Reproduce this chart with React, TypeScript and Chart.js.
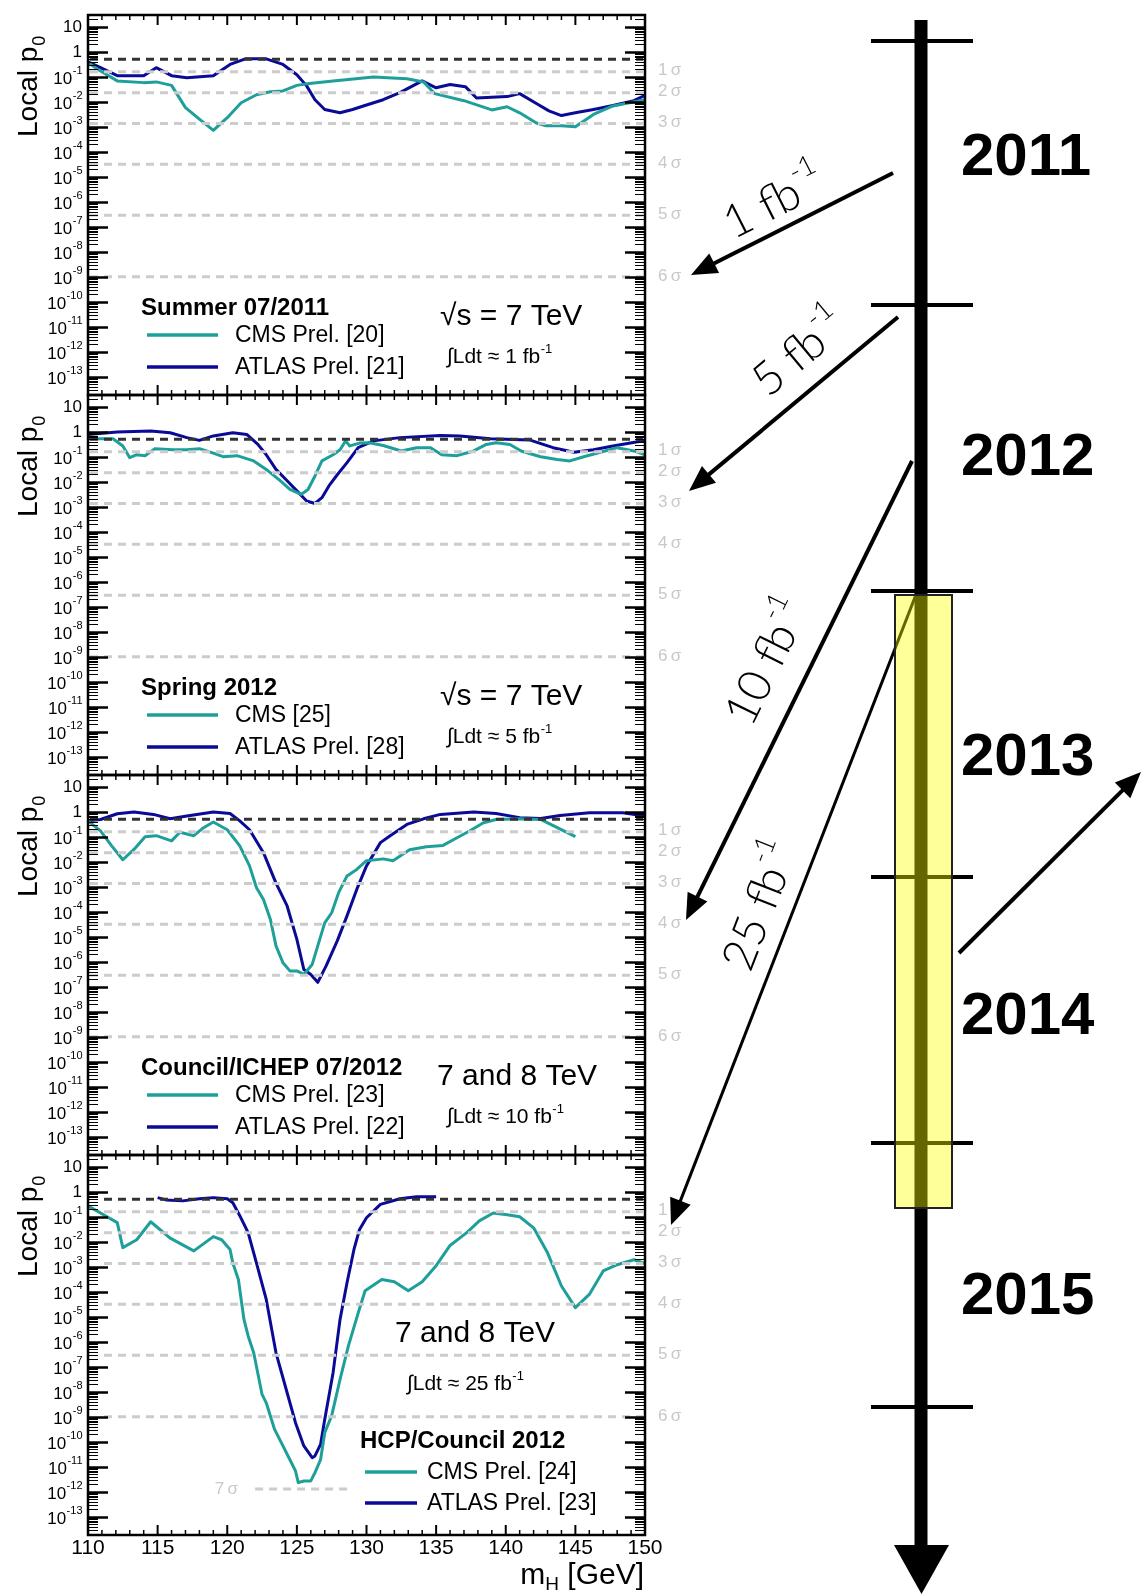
import { useEffect, useRef } from 'react';
import { Chart, registerables } from 'chart.js';

Chart.register(...registerables);

const FONT = '"Liberation Sans", Arial, Helvetica, sans-serif';
const TEAL = '#1e9f9a';
const NAVY = '#0a0a96';

// ---------------- data ----------------
const P1_CMS_M = [110, 110.9, 112.1, 114, 114.9, 116, 117, 118, 119, 120, 121, 122.1, 123.1, 124, 125, 125.9, 127.6, 130.5, 132.9, 134.1, 134.9, 137, 139, 140.1, 141, 142.2, 142.9, 144, 145, 146.3, 147.7, 150];
const P1_CMS_P = [3.6e-1, 1.7e-1, 6.8e-2, 5.8e-2, 6.2e-2, 4.5e-2, 5.8e-3, 2.0e-3, 7.1e-4, 2.3e-3, 9.1e-3, 1.9e-2, 2.5e-2, 2.7e-2, 4.5e-2, 5.4e-2, 6.8e-2, 9.8e-2, 8.3e-2, 6.2e-2, 2.1e-2, 1.1e-2, 4.7e-3, 6.3e-3, 3.6e-3, 1.4e-3, 1.1e-3, 1.1e-3, 1.0e-3, 3.1e-3, 6.8e-3, 1.2e-2];
const P1_ATLAS_M = [110, 110.9, 112.1, 114, 114.9, 116, 117.1, 119, 120.2, 121.3, 122.8, 124, 125, 125.7, 126.3, 127, 128.1, 129, 130, 131.2, 132.4, 134, 135, 136, 137.1, 137.9, 140.1, 141, 142.2, 143.1, 144, 145, 146.3, 147.7, 149.2, 150];
const P1_ATLAS_P = [3.9e-1, 2.3e-1, 1.1e-1, 1.1e-1, 2.3e-1, 1.1e-1, 9.1e-2, 1.1e-1, 3.1e-1, 5.2e-1, 5.2e-1, 3.1e-1, 1.2e-1, 4.3e-2, 1.2e-2, 4.9e-3, 3.6e-3, 4.9e-3, 7.4e-3, 1.2e-2, 2.3e-2, 6.8e-2, 3.6e-2, 4.9e-2, 4.0e-2, 1.4e-2, 1.6e-2, 2.1e-2, 8.5e-3, 4.3e-3, 2.8e-3, 3.6e-3, 4.9e-3, 7.1e-3, 1.1e-2, 1.8e-2];

const P2_CMS_M = [110, 111.8, 112.5, 113, 113.5, 114.1, 114.8, 116.1, 117.1, 118, 119, 119.7, 120.7, 121.9, 122.8, 123.8, 124.5, 125.3, 125.8, 126.3, 126.8, 127.6, 128.1, 128.5, 128.8, 129.5, 130.2, 131.2, 132.5, 133.6, 134.6, 135.4, 136.5, 137.7, 138.6, 139.3, 140.3, 141.1, 142.5, 143.7, 144.6, 145.6, 146.8, 148, 149.2, 150];
const P2_CMS_P = [5.2e-1, 5.2e-1, 2.7e-1, 9.1e-2, 1.2e-1, 1.1e-1, 2.1e-1, 1.9e-1, 1.9e-1, 2.1e-1, 1.4e-1, 1.0e-1, 1.1e-1, 6.8e-2, 3.1e-2, 1.1e-2, 4.9e-3, 3.1e-3, 4.9e-3, 1.7e-2, 6.8e-2, 1.2e-1, 1.9e-1, 4.3e-1, 2.7e-1, 3.5e-1, 3.6e-1, 2.8e-1, 1.7e-1, 2.3e-1, 2.3e-1, 1.2e-1, 1.1e-1, 1.7e-1, 3.1e-1, 3.6e-1, 3.1e-1, 1.7e-1, 1.0e-1, 7.8e-2, 6.8e-2, 1.0e-1, 1.5e-1, 2.3e-1, 1.7e-1, 1.2e-1];
const P2_ATLAS_M = [110, 112.1, 114.5, 115.9, 117.1, 118, 119, 120.4, 121.4, 122.2, 122.8, 123.5, 124.3, 125, 125.7, 126.3, 126.8, 127.3, 127.9, 128.6, 129.4, 130.5, 132.4, 135.3, 136.7, 138.9, 141.7, 143.4, 144.9, 146.3, 147.7, 150];
const P2_ATLAS_P = [7.8e-1, 9.8e-1, 1.07, 9.1e-1, 5.8e-1, 4.5e-1, 6.8e-1, 9.1e-1, 7.8e-1, 3.1e-1, 1.2e-1, 3.1e-2, 1.1e-2, 4.3e-3, 1.7e-3, 1.35e-3, 2.3e-3, 6.8e-3, 1.9e-2, 5.8e-2, 2.3e-1, 4.3e-1, 5.8e-1, 7.1e-1, 6.8e-1, 5.2e-1, 4.7e-1, 2.3e-1, 1.5e-1, 1.9e-1, 2.7e-1, 4.5e-1];

const P3_CMS_M = [110, 110.9, 111.7, 112.5, 113.3, 114.1, 114.9, 116, 116.6, 117.6, 118.3, 119, 120, 120.9, 121.6, 122.1, 122.6, 123.1, 123.5, 124, 124.5, 125, 125.5, 126.1, 126.5, 127, 127.5, 128, 128.6, 129.3, 130, 131.2, 131.9, 133.1, 134.3, 135.5, 136.5, 137.4, 138.4, 139.3, 141, 142.5, 143.7, 145];
const P3_CMS_P = [4.3e-1, 1.7e-1, 4.3e-2, 1.2e-2, 3.1e-2, 1.0e-1, 1.1e-1, 6.8e-2, 1.5e-1, 1.1e-1, 2.3e-1, 3.9e-1, 1.9e-1, 4.3e-2, 6.8e-3, 9.1e-4, 3.1e-4, 4.9e-5, 4.3e-6, 9.1e-7, 4.3e-7, 4.3e-7, 3.1e-7, 7.8e-7, 4.3e-6, 3.6e-5, 9.1e-5, 5.8e-4, 2.7e-3, 4.9e-3, 1.1e-2, 1.3e-2, 1.1e-2, 3.0e-2, 4.0e-2, 4.5e-2, 9.1e-2, 1.7e-1, 3.6e-1, 4.9e-1, 5.2e-1, 4.9e-1, 2.3e-1, 1.0e-1];
const P3_ATLAS_M = [110, 110.9, 112.1, 113.3, 114.7, 115.9, 117.1, 119, 120.2, 120.9, 121.6, 122.6, 123.5, 124.3, 125, 125.5, 126, 126.5, 127.1, 127.9, 128.6, 129.3, 130, 131, 131.7, 132.9, 134.1, 135.3, 137.7, 139.3, 141, 142.5, 143.9, 146, 148.4, 150];
const P3_ATLAS_P = [4.3e-1, 4.9e-1, 8.3e-1, 9.8e-1, 7.8e-1, 5.2e-1, 6.8e-1, 9.8e-1, 8.5e-1, 4.3e-1, 1.9e-1, 2.3e-2, 1.4e-3, 1.7e-4, 7.8e-6, 4.9e-7, 3.1e-7, 1.5e-7, 6.8e-7, 6.8e-6, 6.8e-5, 7.8e-4, 6.8e-3, 5.8e-2, 1.1e-1, 3.1e-1, 5.2e-1, 7.8e-1, 9.8e-1, 8.5e-1, 5.8e-1, 5.4e-1, 7.1e-1, 9.1e-1, 9.1e-1, 6.8e-1];

const P4_CMS_M = [110, 110.9, 112.1, 112.5, 113.5, 114.5, 115.9, 117.6, 119, 119.6, 120.2, 120.4, 120.8, 121.2, 121.5, 121.9, 122.5, 122.8, 123.4, 124, 124.5, 124.9, 125.1, 125.5, 126, 126.3, 126.7, 127, 127.5, 128.1, 128.7, 129.4, 129.9, 131.1, 132, 133, 134, 135, 136, 137.2, 138.1, 139.1, 140.1, 141, 142, 143, 144, 145, 146, 147, 148, 149.2, 150];
const P4_CMS_P = [2.7e-1, 1.4e-1, 5.8e-2, 5.8e-3, 1.2e-2, 6.3e-2, 1.4e-2, 4.3e-3, 1.6e-2, 1.2e-2, 4.9e-3, 1.4e-3, 3.1e-4, 7.8e-6, 1.7e-6, 3.6e-7, 7.8e-9, 3.6e-9, 3.1e-10, 6.8e-11, 1.9e-11, 6.8e-12, 2.3e-12, 2.7e-12, 2.7e-12, 5.8e-12, 1.9e-11, 2.3e-10, 1.1e-9, 3.1e-8, 6.8e-7, 1.4e-5, 1.1e-4, 3.1e-4, 2.5e-4, 1.1e-4, 2.5e-4, 1.1e-3, 7.1e-3, 2.3e-2, 6.8e-2, 1.4e-1, 1.2e-1, 1.0e-1, 3.6e-2, 3.6e-3, 1.7e-4, 2.3e-5, 7.8e-5, 6.8e-4, 1.2e-3, 1.9e-3, 1.35e-3];
const P4_ATLAS_M = [115, 115.6, 116.8, 118, 119, 120, 120.4, 120.9, 121.5, 122.1, 122.8, 123.5, 124.3, 124.9, 125.5, 126.1, 126.3, 126.7, 127, 127.6, 128.1, 128.6, 129.1, 129.5, 130, 131, 132.4, 133.6, 135];
const P4_ATLAS_P = [5.8e-1, 4.7e-1, 4.3e-1, 5.2e-1, 5.8e-1, 5.2e-1, 3.6e-1, 1.1e-1, 2.3e-2, 1.4e-3, 4.9e-5, 3.6e-7, 9.1e-9, 5.8e-10, 6.8e-11, 2.3e-11, 2.7e-11, 7.8e-11, 7.8e-10, 5.8e-8, 7.8e-6, 2.3e-4, 4.9e-3, 3.1e-2, 9.1e-2, 3.1e-1, 5.2e-1, 6.3e-1, 6.3e-1];

const PANEL_TITLES = ['Summer 07/2011', 'Spring 2012', 'Council/ICHEP 07/2012', 'HCP/Council 2012'];
const CMS_LABELS = ['CMS Prel. [20]', 'CMS [25]', 'CMS Prel. [23]', 'CMS Prel. [24]'];
const ATLAS_LABELS = ['ATLAS Prel. [21]', 'ATLAS Prel. [28]', 'ATLAS Prel. [22]', 'ATLAS Prel. [23]'];
const ENERGY_LABELS = ['\u221As = 7 TeV', '\u221As = 7 TeV', '7 and 8 TeV', '7 and 8 TeV'];
const LUMI_VALUES = ['1', '5', '10', '25'];

const X_MIN = 110;
const X_MAX = 150;
const X_TICK_LABELS = [110, 115, 120, 125, 130, 135, 140, 145, 150];
const Y_MIN = 1.86e-14;
const Y_MAX = 29.4;
const Y_LABEL_EXPONENTS = [-13, -12, -11, -10, -9, -8, -7, -6, -5, -4, -3, -2, -1, 0, 1];
const SIGMA_NAMES = ['1\u2009\u03C3', '2\u2009\u03C3', '3\u2009\u03C3', '4\u2009\u03C3', '5\u2009\u03C3', '6\u2009\u03C3', '7\u2009\u03C3'];
const SIGMA_P = [1.587e-1, 2.275e-2, 1.35e-3, 3.17e-5, 2.87e-7, 9.87e-10, 1.28e-12];
const HALF_P = 0.5;

const TIMELINE_YEARS = ['2011', '2012', '2013', '2014', '2015'];
const LUMI_ARROW_LABELS = ['1', '5', '10', '25'];

// ---------------- layout ----------------
const PANEL_SERIES = [
  { cm: P1_CMS_M, cp: P1_CMS_P, am: P1_ATLAS_M, ap: P1_ATLAS_P },
  { cm: P2_CMS_M, cp: P2_CMS_P, am: P2_ATLAS_M, ap: P2_ATLAS_P },
  { cm: P3_CMS_M, cp: P3_CMS_P, am: P3_ATLAS_M, ap: P3_ATLAS_P },
  { cm: P4_CMS_M, cp: P4_CMS_P, am: P4_ATLAS_M, ap: P4_ATLAS_P },
];
const PLOT_L = 88;
const PLOT_R = 645;
const PANEL_H = 380;
const CANVAS_W = 700;
const PAD_TOP = 15;

const LEG_STD = { titleX: 141, titleY: 300, lineX0: 147, lineX1: 218, textX: 235, cmsY: 320, atlasY: 352, energyY: 310, lumiX: 447, lumiY: 348 };
const LEGEND_LAYOUT = [
  { ...LEG_STD, energyX: 440 },
  { ...LEG_STD, energyX: 440 },
  { ...LEG_STD, energyX: 437 },
  { titleX: 360, titleY: 293, lineX0: 365, lineX1: 417, textX: 427, cmsY: 317, atlasY: 348, energyX: 395, energyY: 187, lumiX: 407, lumiY: 235 },
];

function hline(ctx: any, x0: number, y0: number, x1: number, y1: number) {
  ctx.beginPath();
  ctx.moveTo(x0, y0);
  ctx.lineTo(x1, y1);
  ctx.stroke();
}

function drawSup(ctx: any, base: string, sup: string, x: number, y: number, bf: string, sf: string, dy: number, alignRight: boolean) {
  ctx.font = bf;
  const wb = ctx.measureText(base).width;
  ctx.font = sf;
  const ws = ctx.measureText(sup).width;
  const x0 = alignRight ? x - wb - ws : x;
  ctx.textAlign = 'left';
  ctx.font = bf;
  ctx.fillText(base, x0, y);
  ctx.font = sf;
  ctx.fillText(sup, x0 + wb + 0.5, y + dy);
}

function makeDecor(idx: number) {
  return {
    id: 'panelDecor',
    afterDatasetsDraw(chart: any) {
      const { ctx, chartArea: a } = chart;
      const xs = chart.scales.x;
      const ys = chart.scales.y;
      ctx.save();
      ctx.beginPath();
      ctx.rect(a.left, a.top, a.right - a.left, a.bottom - a.top);
      ctx.clip();
      ctx.setLineDash([8, 6]);
      ctx.lineWidth = 3;
      const x0 = idx === 3 ? 104 : a.left + 2;
      const x1 = a.right - 2;
      ctx.strokeStyle = '#cccccc';
      SIGMA_P.forEach((p, i) => {
        if (i === 6) return;
        const py = ys.getPixelForValue(p);
        hline(ctx, x0, py, x1, py);
      });
      if (idx === 3) {
        const py = ys.getPixelForValue(SIGMA_P[6]);
        hline(ctx, xs.getPixelForValue(122), py, xs.getPixelForValue(129), py);
      }
      ctx.strokeStyle = '#333333';
      const ph = ys.getPixelForValue(HALF_P);
      hline(ctx, x0, ph, x1, ph);
      ctx.restore();
    },
    afterDraw(chart: any) {
      const { ctx, chartArea: a } = chart;
      const xs = chart.scales.x;
      const ys = chart.scales.y;
      const L: any = LEGEND_LAYOUT[idx];
      ctx.save();
      ctx.setLineDash([]);
      ctx.strokeStyle = '#000';
      ctx.fillStyle = '#000';
      ctx.lineCap = 'butt';

      // y ticks (log, minor 2..9)
      for (let e = -14; e <= 1; e++) {
        for (let k = 1; k <= 9; k++) {
          const v = k * Math.pow(10, e);
          if (v < Y_MIN || v > Y_MAX) continue;
          const py = Math.round(ys.getPixelForValue(v)) + 0.5;
          const major = k === 1;
          ctx.lineWidth = major ? 2.5 : 1;
          const len = major ? 20 : 10;
          hline(ctx, a.left, py, a.left + len, py);
          hline(ctx, a.right, py, a.right - len, py);
        }
      }
      // x ticks
      for (let m = X_MIN; m <= X_MAX; m++) {
        const px = xs.getPixelForValue(m);
        const major = m % 5 === 0;
        const len = major ? 10 : 5;
        ctx.lineWidth = major ? 2 : 1.5;
        hline(ctx, px, a.top, px, a.top + len);
        hline(ctx, px, a.bottom, px, a.bottom - len);
      }
      // frame
      ctx.lineWidth = 2.5;
      ctx.strokeRect(a.left, a.top, a.right - a.left, a.bottom - a.top);

      // y labels
      ctx.textBaseline = 'middle';
      Y_LABEL_EXPONENTS.forEach((e) => {
        const py = ys.getPixelForValue(Math.pow(10, e));
        if (e === 0 || e === 1) {
          ctx.font = `17px ${FONT}`;
          ctx.textAlign = 'right';
          ctx.fillText(e === 0 ? '1' : '10', 82, py + 1);
        } else {
          drawSup(ctx, '10', String(e), 82, py + 3, `17px ${FONT}`, `11px ${FONT}`, -9, true);
        }
      });

      // y title
      ctx.save();
      ctx.translate(37, a.top + 122);
      ctx.rotate(-Math.PI / 2);
      ctx.textAlign = 'left';
      ctx.textBaseline = 'alphabetic';
      ctx.font = `28px ${FONT}`;
      ctx.fillText('Local p', 0, 0);
      const wt = ctx.measureText('Local p').width;
      ctx.font = `18px ${FONT}`;
      ctx.fillText('0', wt + 1, 8);
      ctx.restore();

      // sigma labels
      ctx.fillStyle = '#c8c8c8';
      ctx.font = `17px ${FONT}`;
      ctx.textAlign = 'left';
      ctx.textBaseline = 'middle';
      for (let i = 0; i < 6; i++) {
        ctx.fillText(SIGMA_NAMES[i], 658, ys.getPixelForValue(SIGMA_P[i]) - 1);
      }
      if (idx === 3) {
        ctx.textAlign = 'right';
        ctx.fillText(SIGMA_NAMES[6], xs.getPixelForValue(122) - 17, ys.getPixelForValue(SIGMA_P[6]));
      }

      // legend
      ctx.fillStyle = '#000';
      ctx.textAlign = 'left';
      ctx.textBaseline = 'alphabetic';
      ctx.font = `bold 24px ${FONT}`;
      ctx.fillText(PANEL_TITLES[idx], L.titleX, a.top + L.titleY);
      ctx.lineWidth = 3.5;
      ctx.strokeStyle = TEAL;
      hline(ctx, L.lineX0, a.top + L.cmsY, L.lineX1, a.top + L.cmsY);
      ctx.strokeStyle = NAVY;
      hline(ctx, L.lineX0, a.top + L.atlasY, L.lineX1, a.top + L.atlasY);
      ctx.font = `23px ${FONT}`;
      ctx.textBaseline = 'middle';
      ctx.fillText(CMS_LABELS[idx], L.textX, a.top + L.cmsY + 1);
      ctx.fillText(ATLAS_LABELS[idx], L.textX, a.top + L.atlasY + 1);
      ctx.textBaseline = 'alphabetic';
      ctx.font = `30px ${FONT}`;
      ctx.fillText(ENERGY_LABELS[idx], L.energyX, a.top + L.energyY);
      drawSup(ctx, `\u222BLdt \u2248 ${LUMI_VALUES[idx]} fb`, '-1', L.lumiX, a.top + L.lumiY, `21px ${FONT}`, `13px ${FONT}`, -10, false);

      // x axis labels (bottom panel only)
      if (idx === 3) {
        ctx.font = `21px ${FONT}`;
        ctx.textAlign = 'center';
        X_TICK_LABELS.forEach((v) => ctx.fillText(String(v), xs.getPixelForValue(v), a.bottom + 19));
        ctx.font = `30px ${FONT}`;
        const wm = ctx.measureText('m').width;
        const wg = ctx.measureText(' [GeV]').width;
        ctx.font = `19px ${FONT}`;
        const wh = ctx.measureText('H').width;
        const xr = 644;
        const x0 = xr - wm - wh - wg;
        const yb = a.bottom + 49;
        ctx.textAlign = 'left';
        ctx.font = `30px ${FONT}`;
        ctx.fillText('m', x0, yb);
        ctx.font = `19px ${FONT}`;
        ctx.fillText('H', x0 + wm, yb + 6);
        ctx.font = `30px ${FONT}`;
        ctx.fillText(' [GeV]', x0 + wm + wh, yb);
      }
      ctx.restore();
    },
  };
}

function Panel({ idx }: { idx: number }) {
  const ref = useRef<HTMLCanvasElement>(null);
  const top = idx * PANEL_H;
  const height = idx === 3 ? 1594 - top : PANEL_H + 2 * PAD_TOP;
  useEffect(() => {
    const s = PANEL_SERIES[idx];
    const chart = new Chart(ref.current as HTMLCanvasElement, {
      type: 'line',
      data: {
        datasets: [
          {
            label: 'CMS',
            data: s.cm.map((m, i) => ({ x: m, y: s.cp[i] })),
            borderColor: TEAL,
            borderWidth: 3,
            pointRadius: 0,
            tension: 0,
            fill: false,
            borderJoinStyle: 'round',
          },
          {
            label: 'ATLAS',
            data: s.am.map((m, i) => ({ x: m, y: s.ap[i] })),
            borderColor: NAVY,
            borderWidth: 3,
            pointRadius: 0,
            tension: 0,
            fill: false,
            borderJoinStyle: 'round',
          },
        ],
      },
      options: {
        responsive: false,
        animation: false,
        devicePixelRatio: 1,
        events: [],
        layout: { padding: { left: PLOT_L, right: CANVAS_W - PLOT_R, top: PAD_TOP, bottom: height - PAD_TOP - PANEL_H } },
        plugins: { legend: { display: false }, tooltip: { enabled: false } },
        scales: {
          x: { type: 'linear', min: X_MIN, max: X_MAX, display: false, bounds: 'data' },
          y: { type: 'logarithmic', min: Y_MIN, max: Y_MAX, display: false, bounds: 'data' },
        },
      } as any,
      plugins: [makeDecor(idx)],
    });
    return () => chart.destroy();
  }, []);
  return (
    <canvas
      ref={ref}
      width={CANVAS_W}
      height={height}
      style={{ position: 'absolute', left: 0, top, width: CANVAS_W, height }}
    />
  );
}

// ---------------- timeline ----------------
const TL_X = 921;
const TL_TICKS_Y = [41, 305, 591, 877, 1143, 1407];
const YEAR_BASELINES = [175, 475, 775, 1034, 1314];
const LUMI_ARROWS = [
  { x1: 893, y1: 173, x2: 691, y2: 275, w: 4, lx: 773, ly: 200 },
  { x1: 898, y1: 317, x2: 689, y2: 491, w: 4, lx: 798, ly: 351 },
  { x1: 912, y1: 461, x2: 686, y2: 920, w: 4, lx: 765, ly: 661 },
  { x1: 917, y1: 592, x2: 671, y2: 1225, w: 3, lx: 758, ly: 905 },
];
const OUT_ARROW = { x1: 959, y1: 953, x2: 1141, y2: 772, w: 4 };

function Arrow({ a }: { a: any }) {
  const dx = a.x2 - a.x1;
  const dy = a.y2 - a.y1;
  const len = Math.hypot(dx, dy);
  const ux = dx / len;
  const uy = dy / len;
  const hl = 26;
  const hw = 11;
  const bx = a.x2 - ux * hl;
  const by = a.y2 - uy * hl;
  const pts = `${a.x2},${a.y2} ${bx - uy * hw},${by + ux * hw} ${bx + uy * hw},${by - ux * hw}`;
  return (
    <g>
      <line x1={a.x1} y1={a.y1} x2={bx + ux * 2} y2={by + uy * 2} stroke="#000" strokeWidth={a.w} />
      <polygon points={pts} fill="#000" />
    </g>
  );
}

function Timeline() {
  return (
    <svg width={1143} height={1594} style={{ position: 'absolute', left: 0, top: 0, pointerEvents: 'none' }}>
      {LUMI_ARROWS.map((a, i) => {
        const ang = (Math.atan2(a.y1 - a.y2, a.x1 - a.x2) * 180) / Math.PI;
        return (
          <g key={i}>
            <Arrow a={a} />
            <text
              x={a.lx}
              y={a.ly}
              transform={`rotate(${ang} ${a.lx} ${a.ly})`}
              textAnchor="middle"
              dominantBaseline="central"
              fontFamily="Lato, 'Open Sans', sans-serif"
              fontWeight={300}
              fontSize={46}
              fill="#000"
            >
              {`${LUMI_ARROW_LABELS[i]} fb`}
              <tspan fontSize={28} dy={-17}>-1</tspan>
            </text>
          </g>
        );
      })}
      <Arrow a={OUT_ARROW} />
      <line x1={TL_X} y1={20} x2={TL_X} y2={1550} stroke="#000" strokeWidth={13} />
      {TL_TICKS_Y.map((y, i) => (
        <line key={i} x1={871} x2={973} y1={y} y2={y} stroke="#000" strokeWidth={4} />
      ))}
      <polygon points={`${TL_X - 27},1545 ${TL_X + 28},1545 ${TL_X + 0.5},1594`} fill="#000" />
      <rect x={895} y={595} width={57} height={613} fill="rgba(255,255,0,0.4)" stroke="#222" strokeWidth={2} />
      {TIMELINE_YEARS.map((yr, i) => (
        <text key={yr} x={961} y={YEAR_BASELINES[i]} fontFamily={FONT} fontWeight="bold" fontSize={60} fill="#000">
          {yr}
        </text>
      ))}
    </svg>
  );
}

export default function App() {
  return (
    <div style={{ position: 'absolute', left: 0, top: 0, width: 1143, height: 1594, background: '#fff', overflow: 'hidden' }}>
      {[0, 1, 2, 3].map((i) => (
        <Panel key={i} idx={i} />
      ))}
      <Timeline />
    </div>
  );
}
